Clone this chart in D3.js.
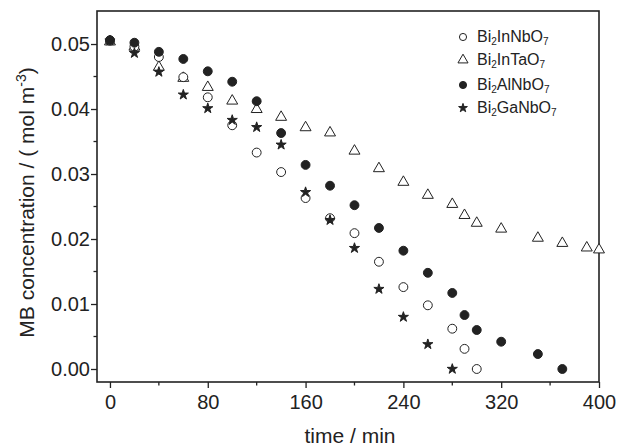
<!DOCTYPE html>
<html>
<head>
<meta charset="utf-8">
<script src="https://cdn.jsdelivr.net/npm/d3@7"></script>
<style>
  body { margin: 0; background: #fff; }
  text { font-family: Arial, "Liberation Sans", sans-serif; fill: #222; }
</style>
</head>
<body>
<svg id="chart" width="621" height="447"></svg>
<script>
// data
var inNbTimes = [0, 20, 40, 60, 80, 100, 120, 140, 160, 180, 200, 220, 240, 260, 280, 290, 300];
var inNbVals  = [0.0505, 0.0496, 0.0480, 0.0449, 0.0418, 0.0375, 0.0333, 0.0303, 0.0263, 0.0232, 0.0209, 0.0165, 0.0126, 0.0098, 0.0062, 0.0031, 0.0000];

var inTaTimes = [0, 20, 40, 60, 80, 100, 120, 140, 160, 180, 200, 220, 240, 260, 280, 290, 300, 320, 350, 370, 390, 400];
var inTaVals  = [0.0505, 0.0497, 0.0466, 0.0449, 0.0435, 0.0414, 0.0401, 0.0389, 0.0373, 0.0365, 0.0337, 0.0310, 0.0289, 0.0269, 0.0255, 0.0238, 0.0226, 0.0217, 0.0203, 0.0195, 0.0188, 0.0185];

var alNbTimes = [0, 20, 40, 60, 80, 100, 120, 140, 160, 180, 200, 220, 240, 260, 280, 290, 300, 320, 350, 370];
var alNbVals  = [0.0506, 0.0502, 0.0488, 0.0477, 0.0458, 0.0442, 0.0412, 0.0363, 0.0314, 0.0282, 0.0252, 0.0217, 0.0182, 0.0148, 0.0117, 0.0083, 0.0060, 0.0042, 0.0023, 0.0000];

var gaNbTimes = [0, 20, 40, 60, 80, 100, 120, 140, 160, 180, 200, 220, 240, 260, 280];
var gaNbVals  = [0.0505, 0.0486, 0.0457, 0.0422, 0.0401, 0.0383, 0.0372, 0.0345, 0.0272, 0.0229, 0.0186, 0.0123, 0.0080, 0.0038, 0.0000];

var seriesNames = ["InNb", "InTa", "AlNb", "GaNb"];
var legendMiddle = ["InNbO", "InTaO", "AlNbO", "GaNbO"];

var xTicks = [0, 80, 160, 240, 320, 400];
var xMinor = [40, 120, 200, 280, 360];
var yTicks = [0, 0.01, 0.02, 0.03, 0.04, 0.05];
var yMinor = [0.005, 0.015, 0.025, 0.035, 0.045];

var svg = d3.select("#chart");
var pLeft = 97, pRight = 599, pTop = 11, pBottom = 382;

var x = d3.scaleLinear().domain([-10.6, 400]).range([pLeft, pRight]);
var y = d3.scaleLinear().domain([-0.002, 0.05508]).range([pBottom, pTop]);

// axes
var xAxis = d3.axisBottom(x).tickValues(xTicks).tickSize(6).tickFormat(d3.format("d"));
var gx = svg.append("g").attr("transform", "translate(0," + pBottom + ")").call(xAxis);
gx.select(".domain").remove();
gx.selectAll(".tick line").attr("stroke", "#222").attr("stroke-width", 1.3);
gx.selectAll("text").attr("font-size", 20).attr("font-family", "Arial, 'Liberation Sans', sans-serif")
  .attr("y", 9).attr("dy", "0.9em").attr("fill", "#222");
gx.append("g").selectAll("line").data(xMinor).enter().append("line")
  .attr("x1", function(d) { return x(d); }).attr("x2", function(d) { return x(d); })
  .attr("y1", 0).attr("y2", 3.5).attr("stroke", "#222").attr("stroke-width", 1.3);

var yAxis = d3.axisLeft(y).tickValues(yTicks).tickSize(6).tickFormat(d3.format(".2f"));
var gy = svg.append("g").attr("transform", "translate(" + pLeft + ",0)").call(yAxis);
gy.select(".domain").remove();
gy.selectAll(".tick line").attr("stroke", "#222").attr("stroke-width", 1.3);
gy.selectAll("text").attr("font-size", 20).attr("font-family", "Arial, 'Liberation Sans', sans-serif")
  .attr("x", -7).attr("fill", "#222");
gy.append("g").selectAll("line").data(yMinor).enter().append("line")
  .attr("y1", function(d) { return y(d); }).attr("y2", function(d) { return y(d); })
  .attr("x1", 0).attr("x2", -3.5).attr("stroke", "#222").attr("stroke-width", 1.3);

// frame
svg.append("rect").attr("x", pLeft).attr("y", pTop)
  .attr("width", pRight - pLeft).attr("height", pBottom - pTop)
  .attr("fill", "none").attr("stroke", "#222").attr("stroke-width", 1.6);

// axis titles
svg.append("text").attr("x", (pLeft + pRight) / 2 + 2).attr("y", 443)
  .attr("text-anchor", "middle").attr("font-size", 21).text("time / min");

var yt = svg.append("text").attr("transform", "translate(34," + ((pTop + pBottom) / 2 + 6) + ") rotate(-90)")
  .attr("text-anchor", "middle").attr("font-size", 21);
yt.append("tspan").text("MB concentration / ( mol m");
yt.append("tspan").attr("font-size", 14).attr("dy", -8).text("-3");
yt.append("tspan").attr("dy", 8).text(")");

// markers
var circle = d3.symbol().type(d3.symbolCircle).size(62);
var tri = d3.symbol().type(d3.symbolTriangle).size(52);
var star = d3.symbol().type(d3.symbolStar).size(32);

function drawSeries(ts, vs, path, fill, dy) {
  svg.append("g").selectAll("path").data(vs).enter().append("path")
    .attr("d", path)
    .attr("transform", function(d, i) { return "translate(" + x(ts[i]) + "," + (y(d) + dy) + ")"; })
    .attr("fill", fill)
    .attr("stroke", "#222")
    .attr("stroke-width", 1);
}

drawSeries(inTaTimes, inTaVals, tri, "#fff", 1);
drawSeries(inNbTimes, inNbVals, circle, "#fff", 0);
drawSeries(gaNbTimes, gaNbVals, star, "#222", 0);
drawSeries(alNbTimes, alNbVals, circle, "#222", 0);

// legend
var legendFill = ["#fff", "#fff", "#222", "#222"];
var legendY = [37, 60, 85, 108];
var lg = svg.append("g");
seriesNames.forEach(function(s, i) {
  var sym;
  if (i == 3) sym = d3.symbol().type(d3.symbolStar).size(24)();
  else if (i == 1) sym = d3.symbol().type(d3.symbolTriangle).size(44)();
  else sym = d3.symbol().type(d3.symbolCircle).size(40)();
  lg.append("path").attr("d", sym)
    .attr("transform", "translate(463," + legendY[i] + ")")
    .attr("fill", legendFill[i]).attr("stroke", "#222").attr("stroke-width", 1);
  var t = lg.append("text").attr("x", 477).attr("y", legendY[i] + 5).attr("font-size", 16);
  t.append("tspan").text("Bi");
  t.append("tspan").attr("font-size", 10).attr("dy", 3).text("2");
  t.append("tspan").attr("dy", -3).text(legendMiddle[i]);
  t.append("tspan").attr("font-size", 10).attr("dy", 3).text("7");
});
</script>
</body>
</html>
